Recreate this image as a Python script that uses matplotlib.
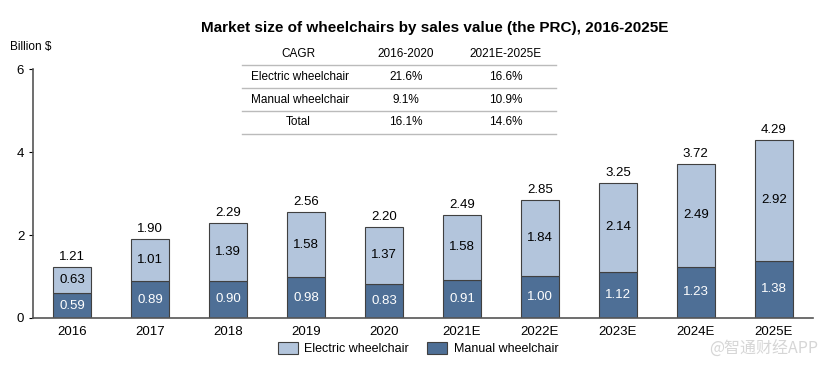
import matplotlib.pyplot as plt
import numpy as np

plt.rcParams['font.family'] = ['Liberation Sans', 'DejaVu Sans']

years = ['2016', '2017', '2018', '2019', '2020', '2021E', '2022E', '2023E', '2024E', '2025E']
manual = [0.59, 0.89, 0.90, 0.98, 0.83, 0.91, 1.00, 1.12, 1.23, 1.38]
electric = [0.63, 1.01, 1.39, 1.58, 1.37, 1.58, 1.84, 2.14, 2.49, 2.92]
totals = [1.21, 1.90, 2.29, 2.56, 2.20, 2.49, 2.85, 3.25, 3.72, 4.29]

cagr_header = ['CAGR', '2016-2020', '2021E-2025E']
cagr_rows = [
    ['Electric wheelchair', '21.6%', '16.6%'],
    ['Manual wheelchair', '9.1%', '10.9%'],
    ['Total', '16.1%', '14.6%'],
]

c_manual = '#4E6F96'
c_electric = '#B3C5DC'
c_edge = '#404040'

fig = plt.figure(figsize=(8.31, 3.68), dpi=100)
ax = fig.add_axes([0.040, 0.136, 0.938, 0.676])

x = np.arange(len(years))
w = 0.49
ax.bar(x, manual, w, color=c_manual, edgecolor=c_edge, linewidth=0.8, label='Manual wheelchair')
ax.bar(x, electric, w, bottom=manual, color=c_electric, edgecolor=c_edge, linewidth=0.8,
       label='Electric wheelchair')

for i in range(len(years)):
    ax.text(x[i], manual[i] / 2, f'{manual[i]:.2f}', ha='center', va='center', color='white', fontsize=9.5)
    ax.text(x[i], manual[i] + electric[i] / 2, f'{electric[i]:.2f}', ha='center', va='center',
            color='black', fontsize=9.5)
    ax.text(x[i], manual[i] + electric[i] + 0.1, f'{totals[i]:.2f}', ha='center', va='bottom',
            color='black', fontsize=9.5)

ax.set_xlim(-0.5, 9.5)
ax.set_ylim(0, 6)
ax.set_yticks([0, 2, 4, 6])
ax.set_xticks(x)
ax.set_xticklabels(years)
ax.tick_params(axis='both', labelsize=9.5, colors='black', length=3)
ax.tick_params(axis='x', length=0, pad=6)
for s in ['top', 'right']:
    ax.spines[s].set_visible(False)
for s in ['left', 'bottom']:
    ax.spines[s].set_color('#555555')
    ax.spines[s].set_linewidth(1.2)

fig.text(0.523, 0.925, 'Market size of wheelchairs by sales value (the PRC), 2016-2025E',
         ha='center', va='center', fontsize=11, fontweight='bold')
fig.text(0.012, 0.873, 'Billion $', ha='left', va='center', fontsize=8.5)

# CAGR table
col_x = [298, 406, 506]
row_y = [54, 77, 100, 122]
line_y = [65, 88, 111, 134]
for j, t in enumerate(cagr_header):
    fig.text(col_x[j] / 831, 1 - row_y[0] / 368, t, ha='center', va='center', fontsize=8.5)
for r, row in enumerate(cagr_rows):
    for j, t in enumerate(row):
        if j == 0 and r < 2:
            fig.text(251 / 831, 1 - row_y[r + 1] / 368, t, ha='left', va='center', fontsize=8.5)
        else:
            fig.text(col_x[j] / 831, 1 - row_y[r + 1] / 368, t, ha='center', va='center', fontsize=8.5)
for ly in line_y:
    fig.add_artist(plt.Line2D([242 / 831, 556 / 831], [1 - ly / 368, 1 - ly / 368],
                              color='#BBBBBB', linewidth=1))

h, l = ax.get_legend_handles_labels()
fig.legend(h[::-1], l[::-1], loc='center', bbox_to_anchor=(0.503, 0.052), ncol=2, frameon=False,
           fontsize=9, handlelength=1.6, handleheight=1.1, columnspacing=1.5, handletextpad=0.5)

fig.text(0.985, 0.05, '@智通财经APP', ha='right', va='center', fontsize=11.5, color='#D6D6D6',
         family=['Noto Sans CJK SC', 'DejaVu Sans'])

fig.savefig('out.png', dpi=100)
